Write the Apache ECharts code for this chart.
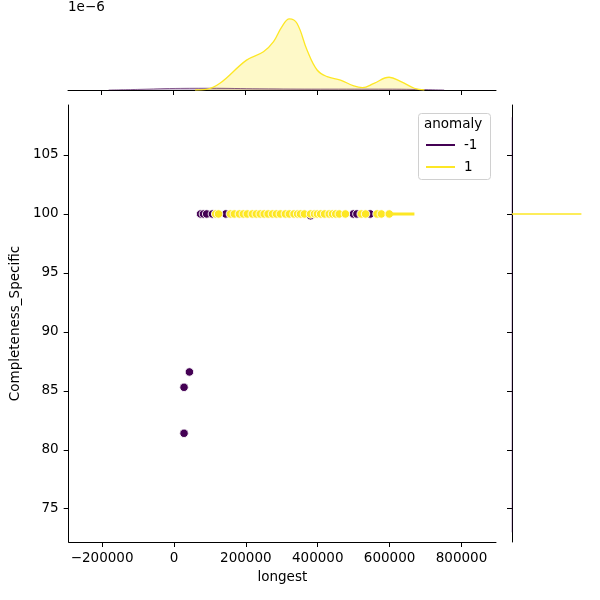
<!DOCTYPE html>
<html style='height: 100%'>
<head>
    <meta charset='utf-8'>
</head>
<body style='height: 100%; margin: 0; background: #fff'>
    <div id='container' style='width: 600px; height: 600px'></div>
    <script type='text/javascript' src='https://cdn.jsdelivr.net/npm/echarts@6/dist/echarts.min.js'></script>
    <script type="text/javascript">

// tick values
var xTicks = [-200000, 0, 200000, 400000, 600000, 800000];
var yTicks = [75, 80, 85, 90, 95, 100, 105];

// scatter points (longest, Completeness_Specific)
var anomalyX = [74000, 82000, 91000, 107000, 144000, 380000, 499000, 509000, 546000, 43000, 28000, 28000];
var anomalyY = [100, 100, 100, 100, 100, 99.85, 100, 100, 100, 86.6, 85.3, 81.4];
var normalX = [116000, 124000, 157000, 168000, 182000, 193000, 204000, 218000, 229000, 240000, 251000,
    262000, 274000, 285000, 296000, 310000, 321000, 334000, 344000, 352000, 363000, 380000, 391000,
    399000, 408000, 419000, 432000, 441000, 450000, 460000, 477000, 521000, 533000, 565000, 577000, 599000];
var normalY = normalX.map(function () { return 100; });
// dense run of normal points drawn as a stroke
var normalRunX = [607000, 669000];

// top marginal KDE (density x 1e-6)
var kdeNormalX = [60000, 91000, 129000, 203000, 250000, 278000, 301000, 322000, 343000, 371000, 399000,
    427000, 464000, 501000, 525000, 557000, 599000, 632000, 669000, 697000];
var kdeNormalY = [0, 0.02, 0.23, 1.03, 1.32, 1.67, 2.18, 2.45, 2.30, 1.38, 0.69,
    0.46, 0.34, 0.14, 0.08, 0.23, 0.44, 0.29, 0.06, 0.0];
var kdeAnomalyX = [-180000, -100000, -11000, 100000, 240000, 408000, 596000, 752000];
var kdeAnomalyY = [0, 0.02, 0.05, 0.06, 0.04, 0.03, 0.03, 0];

// right marginal KDE (density, y value)
var rightNormalD = [0, 2.45];
var rightNormalY = [100, 100];
var rightAnomalyD = [0, 0];
var rightAnomalyY = [73, 108.2];

var purple = '#440154';
var yellow = '#fde725';
var font = 'DejaVu Sans';

function pairs(xs, ys) {
    return xs.map(function (v, i) { return [v, ys[i]]; });
}
function fmt(v) {
    return String(v).replace('-', '\u2212');
}

var dom = document.getElementById("container");
var myChart = echarts.init(dom);

var axisBase = {
    axisLine: {show: true, onZero: false, lineStyle: {color: '#000', width: 1}},
    splitLine: {show: false}
};

option = {
    animation: false,
    backgroundColor: '#fff',
    textStyle: {fontFamily: font},
    grid: [
        {left: 68, right: 104, top: 105, bottom: 58},
        {left: 68, right: 104, top: 3, height: 87},
        {left: 512, width: 85, top: 105, bottom: 58}
    ],
    xAxis: [
        Object.assign({}, axisBase, {
            gridIndex: 0, type: 'value', min: -293000, max: 896000,
            name: 'longest', nameLocation: 'middle', nameGap: 28,
            nameTextStyle: {color: '#000', fontSize: 13.5, fontFamily: font},
            axisTick: {show: true, length: 5, customValues: xTicks, lineStyle: {color: '#000'}},
            axisLabel: {customValues: xTicks, color: '#000', fontSize: 13.5, margin: 9, fontFamily: font, formatter: fmt}
        }),
        Object.assign({}, axisBase, {
            gridIndex: 1, type: 'value', min: -293000, max: 896000,
            axisTick: {show: true, length: 5, customValues: xTicks, lineStyle: {color: '#000'}},
            axisLabel: {show: false}
        }),
        {gridIndex: 2, type: 'value', min: 0, max: 3.0, show: false}
    ],
    yAxis: [
        Object.assign({}, axisBase, {
            gridIndex: 0, type: 'value', min: 72.18, max: 109.24,
            name: 'Completeness_Specific', nameLocation: 'middle', nameGap: 44, nameRotate: 90,
            nameTextStyle: {color: '#000', fontSize: 13.5, fontFamily: font},
            axisTick: {show: true, length: 5, customValues: yTicks, lineStyle: {color: '#000'}},
            axisLabel: {customValues: yTicks, color: '#000', fontSize: 13.5, margin: 10, fontFamily: font}
        }),
        {gridIndex: 1, type: 'value', min: 0, max: 3.0, show: false},
        Object.assign({}, axisBase, {
            gridIndex: 2, type: 'value', min: 72.18, max: 109.24,
            axisTick: {show: true, length: 5, customValues: yTicks, lineStyle: {color: '#000'}},
            axisLabel: {show: false}
        })
    ],
    legend: {
        orient: 'vertical', left: 421, top: 133, itemWidth: 29, itemHeight: 2, itemGap: 8,
        icon: 'rect', z: 20,
        textStyle: {color: '#000', fontSize: 13.5, fontFamily: font, padding: [0, 0, 0, 4]},
        data: [
            {name: '-1', itemStyle: {color: purple, borderWidth: 0, opacity: 1}},
            {name: '1', itemStyle: {color: yellow, borderWidth: 0, opacity: 1}}
        ]
    },
    graphic: [
        {type: 'rect', left: 418, top: 113, z: 10, shape: {width: 72, height: 66, r: 3},
            style: {fill: 'rgba(255,255,255,0.8)', stroke: '#d0d0d0', lineWidth: 1}},
        {type: 'text', left: 424, top: 117, z: 21,
            style: {text: 'anomaly', fill: '#000', font: '13.5px "DejaVu Sans"'}},
        {type: 'text', left: 68, top: 0,
            style: {text: '1e\u22126', fill: '#000', font: '13.5px "DejaVu Sans"'}}
    ],
    series: [
        {name: '-1', type: 'scatter', xAxisIndex: 0, yAxisIndex: 0, data: pairs(anomalyX, anomalyY),
            symbolSize: 8.5, itemStyle: {color: purple, borderColor: '#fff', borderWidth: 0.9, opacity: 1}},
        {name: '1', type: 'line', xAxisIndex: 0, yAxisIndex: 0, data: pairs(normalRunX, [100, 100]),
            symbol: 'none', lineStyle: {color: yellow, width: 3}},
        {name: '1', type: 'scatter', xAxisIndex: 0, yAxisIndex: 0, data: pairs(normalX, normalY),
            symbolSize: 8.5, itemStyle: {color: yellow, borderColor: '#fff', borderWidth: 0.9, opacity: 1}},
        {name: '-1', type: 'line', xAxisIndex: 1, yAxisIndex: 1, data: pairs(kdeAnomalyX, kdeAnomalyY),
            smooth: 0.4, symbol: 'none', lineStyle: {color: purple, width: 1, opacity: 0.6},
            areaStyle: {color: purple, opacity: 0.25}},
        {name: '1', type: 'line', xAxisIndex: 1, yAxisIndex: 1, data: pairs(kdeNormalX, kdeNormalY),
            smooth: 0.4, symbol: 'none', lineStyle: {color: yellow, width: 1.3},
            areaStyle: {color: yellow, opacity: 0.25}},
        {name: '-1', type: 'line', xAxisIndex: 2, yAxisIndex: 2, data: pairs(rightAnomalyD, rightAnomalyY),
            symbol: 'none', lineStyle: {color: purple, width: 1, opacity: 0.4}},
        {name: '1', type: 'line', xAxisIndex: 2, yAxisIndex: 2, data: pairs(rightNormalD, rightNormalY),
            symbol: 'none', lineStyle: {color: yellow, width: 1.5}}
    ]
};

if (option && typeof option === "object") {
    myChart.setOption(option, true);
}
    </script>
</body>
</html>
